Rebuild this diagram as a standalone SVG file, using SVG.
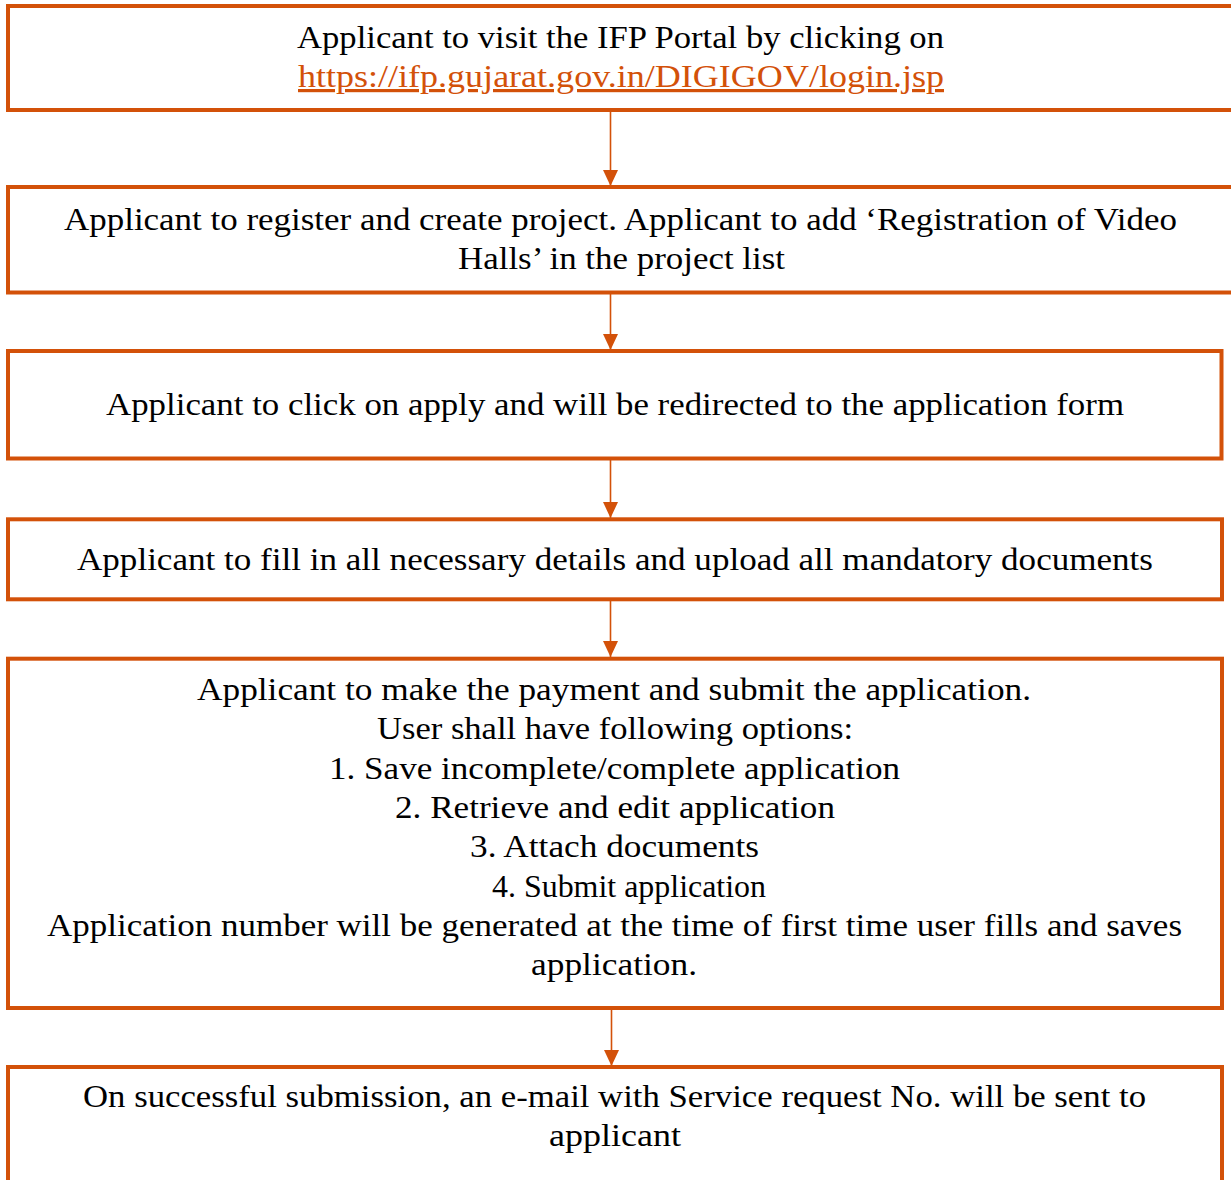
<svg xmlns="http://www.w3.org/2000/svg" width="1231" height="1180" viewBox="0 0 1231 1180">
<style>
.box{fill:#fff;stroke:#D35109;stroke-width:4}
.t{font-family:"Liberation Serif","Times New Roman",serif;font-size:32px;fill:#000;text-anchor:middle}
.link{fill:#D35109;text-decoration:underline}
.c{stroke:#D35109;stroke-width:1.6;fill:none}
</style>
<defs>
<marker id="ah" markerUnits="userSpaceOnUse" markerWidth="16" markerHeight="15" refX="16" refY="7.5" orient="auto">
<path d="M0,0 L16,7.5 L0,15 Z" fill="#D35109"/>
</marker>
</defs>
<rect width="1231" height="1180" fill="#fff"/>
<g id="connectors">
<line class="c" x1="610.5" y1="110" x2="610.5" y2="186" marker-end="url(#ah)"/>
<line class="c" x1="610.5" y1="293" x2="610.5" y2="350" marker-end="url(#ah)"/>
<line class="c" x1="610.5" y1="459" x2="610.5" y2="518" marker-end="url(#ah)"/>
<line class="c" x1="610.5" y1="600" x2="610.5" y2="657" marker-end="url(#ah)"/>
<line class="c" x1="611.5" y1="1008" x2="611.5" y2="1066" marker-end="url(#ah)"/>
</g>
<g id="n1">
<rect class="box" x="8" y="6" width="1226" height="104"/>
<text class="t" x="620.5" y="48" textLength="647" lengthAdjust="spacingAndGlyphs">Applicant to visit the IFP Portal by clicking on</text>
<text class="t link" x="621" y="87" textLength="646" lengthAdjust="spacingAndGlyphs">https://ifp.gujarat.gov.in/DIGIGOV/login.jsp</text>
</g>
<g id="n2">
<rect class="box" x="8" y="187" width="1226" height="105.5"/>
<text class="t" x="620.5" y="230" textLength="1113" lengthAdjust="spacingAndGlyphs">Applicant to register and create project. Applicant to add ‘Registration of Video</text>
<text class="t" x="621.5" y="269" textLength="327" lengthAdjust="spacingAndGlyphs">Halls’ in the project list</text>
</g>
<g id="n3">
<rect class="box" x="8" y="351" width="1213.5" height="107.5"/>
<text class="t" x="615" y="415" textLength="1018" lengthAdjust="spacingAndGlyphs">Applicant to click on apply and will be redirected to the application form</text>
</g>
<g id="n4">
<rect class="box" x="8" y="519.3" width="1214" height="80"/>
<text class="t" x="615" y="570" textLength="1076" lengthAdjust="spacingAndGlyphs">Applicant to fill in all necessary details and upload all mandatory documents</text>
</g>
<g id="n5">
<rect class="box" x="8" y="658.7" width="1214" height="349.3"/>
<text class="t" x="614" y="700" textLength="834" lengthAdjust="spacingAndGlyphs">Applicant to make the payment and submit the application.</text>
<text class="t" x="615" y="739.3" textLength="476" lengthAdjust="spacingAndGlyphs">User shall have following options:</text>
<text class="t" x="614.5" y="778.6" textLength="571" lengthAdjust="spacingAndGlyphs">1. Save incomplete/complete application</text>
<text class="t" x="615" y="817.9" textLength="440" lengthAdjust="spacingAndGlyphs">2. Retrieve and edit application</text>
<text class="t" x="614.5" y="857.2" textLength="289" lengthAdjust="spacingAndGlyphs">3. Attach documents</text>
<text class="t" x="629" y="896.5" textLength="274" lengthAdjust="spacingAndGlyphs">4. Submit application</text>
<text class="t" x="614.5" y="935.8" textLength="1135" lengthAdjust="spacingAndGlyphs">Application number will be generated at the time of first time user fills and saves</text>
<text class="t" x="614" y="975.1" textLength="166" lengthAdjust="spacingAndGlyphs">application.</text>
</g>
<g id="n6">
<rect class="box" x="8" y="1067" width="1214" height="130"/>
<text class="t" x="614.5" y="1107" textLength="1063" lengthAdjust="spacingAndGlyphs">On successful submission, an e-mail with Service request No. will be sent to</text>
<text class="t" x="615" y="1145.5" textLength="132" lengthAdjust="spacingAndGlyphs">applicant</text>
</g>
</svg>
